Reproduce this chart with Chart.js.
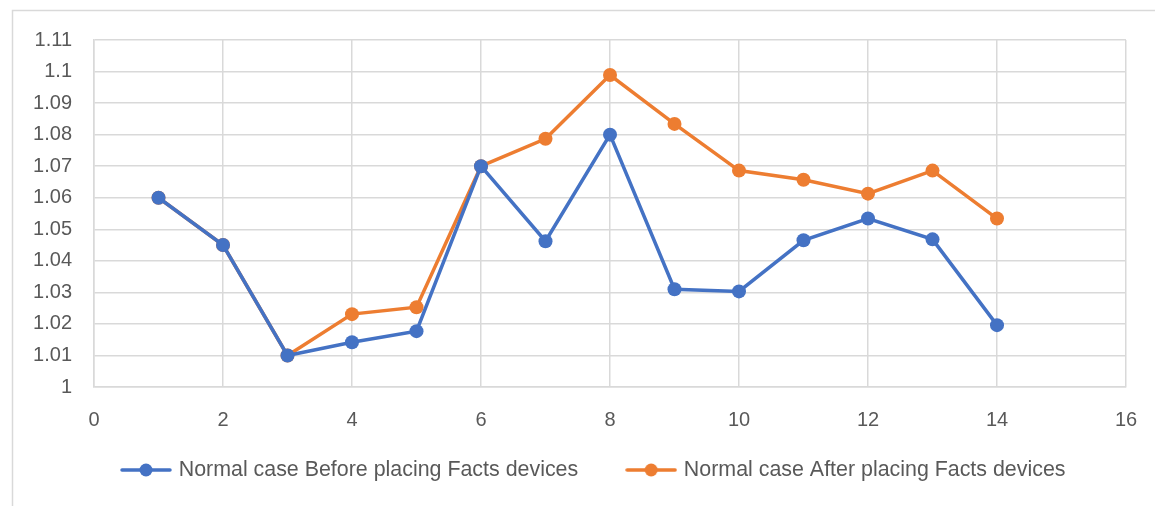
<!DOCTYPE html>
<html>
<head>
<meta charset="utf-8">
<script src="https://cdn.jsdelivr.net/npm/chart.js@4"></script>
<style>
  html, body { margin: 0; padding: 0; background: #fff; }
  #wrap { position: relative; width: 1155px; height: 506px; }
</style>
</head>
<body>
<div id="wrap"><canvas id="myChart" width="1155" height="506"></canvas></div>
<script>
const xValues = [1, 2, 3, 4, 5, 6, 7, 8, 9, 10, 11, 12, 13, 14]
const beforeValues = [1.060, 1.045, 1.010, 1.0142, 1.0177, 1.070, 1.0462, 1.080, 1.031, 1.0303, 1.0465, 1.0534, 1.0468, 1.0196]
const afterValues = [1.060, 1.045, 1.010, 1.0231, 1.0253, 1.070, 1.0787, 1.0989, 1.0834, 1.0686, 1.0657, 1.0613, 1.0686, 1.0534]
const xTicks = [0, 2, 4, 6, 8, 10, 12, 14, 16]
const yTicks = [1, 1.01, 1.02, 1.03, 1.04, 1.05, 1.06, 1.07, 1.08, 1.09, 1.1, 1.11]
const yTickLabels = ['1', '1.01', '1.02', '1.03', '1.04', '1.05', '1.06', '1.07', '1.08', '1.09', '1.1', '1.11']
const seriesNames = ['Normal case Before placing Facts devices', 'Normal case After placing Facts devices']

const blue = '#4472C4'
const orange = '#ED7D31'
const gridColor = '#d9d9d9'
const textColor = '#595959'
const legendPadding = 51

// legend marker: short line with a dot in the middle
function legendMarker(color){
  const c = document.createElement('canvas')
  c.width = 52
  c.height = 16
  const g = c.getContext('2d')
  g.strokeStyle = color
  g.lineWidth = 3.5
  g.lineCap = 'round'
  g.beginPath()
  g.moveTo(2, 8)
  g.lineTo(50, 8)
  g.stroke()
  g.fillStyle = color
  g.beginPath()
  g.arc(26, 8, 6.5, 0, Math.PI * 2)
  g.fill()
  return c
}
const markers = [legendMarker(blue), legendMarker(orange)]

// outer frame + legend placement like the office chart
const frame = {
  id: 'frame',
  beforeDraw(chart){
    const ctx = chart.ctx
    ctx.save()
    ctx.strokeStyle = gridColor
    ctx.lineWidth = 1.5
    ctx.strokeRect(12.5, 10.5, 1300, 700)
    ctx.restore()

    const legend = chart.legend
    if (legend && legend.lineWidths) {
      legend.top = 470 - legendPadding - 10.7
      legend.bottom = chart.height
      legend.left = 2 * 124 - legendPadding - legend.right + legend.lineWidths[0]
    }
  }
}

const ctx = document.getElementById('myChart').getContext('2d')
const chart = new Chart(ctx, {
  type: 'line',
  data: {
    datasets: [
      {
        label: seriesNames[0],
        data: xValues.map((x, i) => ({ x: x, y: beforeValues[i] })),
        borderColor: blue,
        backgroundColor: blue,
        borderWidth: 3.5,
        pointRadius: 7,
        pointBorderWidth: 0,
        pointBackgroundColor: blue,
        pointBorderColor: blue
      },
      {
        label: seriesNames[1],
        data: xValues.map((x, i) => ({ x: x, y: afterValues[i] })),
        borderColor: orange,
        backgroundColor: orange,
        borderWidth: 3.5,
        pointRadius: 7,
        pointBorderWidth: 0,
        pointBackgroundColor: orange,
        pointBorderColor: orange
      }
    ]
  },
  options: {
    responsive: false,
    animation: false,
    events: [],
    layout: {
      padding: { left: 0, right: 29, top: 40, bottom: 29 }
    },
    scales: {
      x: {
        type: 'linear',
        min: 0,
        max: 16,
        afterBuildTicks: (scale) => { scale.ticks = xTicks.map(v => ({ value: v })) },
        afterFit: (scale) => {
          scale.height = 60
          scale.paddingLeft = 0
          scale.paddingRight = 0
        },
        grid: { color: gridColor, lineWidth: 1.5, drawTicks: false },
        border: { color: gridColor, width: 1.5 },
        ticks: {
          color: textColor,
          padding: 21,
          font: { family: 'Liberation Sans', size: 20 },
          callback: (v) => String(v)
        }
      },
      y: {
        min: 1,
        max: 1.11,
        afterBuildTicks: (scale) => { scale.ticks = yTicks.map(v => ({ value: v })) },
        afterFit: (scale) => { scale.width = 94 },
        grid: { color: gridColor, lineWidth: 1.5, drawTicks: false },
        border: { color: gridColor, width: 1.5 },
        ticks: {
          color: textColor,
          padding: 22,
          font: { family: 'Liberation Sans', size: 20 },
          callback: (v, i) => yTickLabels[i]
        }
      }
    },
    plugins: {
      tooltip: { enabled: false },
      legend: {
        position: 'bottom',
        maxHeight: 30,
        labels: {
          usePointStyle: true,
          pointStyleWidth: 44,
          padding: legendPadding,
          color: textColor,
          font: { family: 'Liberation Sans', size: 21.4 },
          generateLabels: (chart) => chart.data.datasets.map((ds, i) => ({
            text: ds.label,
            pointStyle: markers[i],
            fontColor: textColor,
            lineWidth: 0,
            strokeStyle: 'transparent',
            fillStyle: ds.borderColor,
            datasetIndex: i
          }))
        }
      }
    }
  },
  plugins: [frame]
})
</script>
</body>
</html>
